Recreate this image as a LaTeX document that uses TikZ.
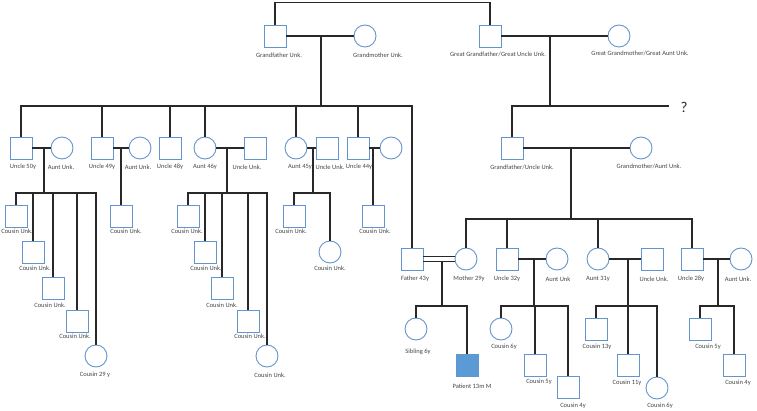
\documentclass[tikz,border=0pt]{standalone}
\usepackage{fontspec}
\setmainfont{Carlito}
\usetikzlibrary{calc}

\definecolor{symb}{RGB}{100,148,204}
\definecolor{patfill}{RGB}{91,155,213}
\definecolor{linecol}{RGB}{40,40,40}
\definecolor{txtcol}{RGB}{70,70,70}

\begin{document}
\begin{tikzpicture}[x=1pt, y=-1pt,
  male/.style={draw=symb, line width=0.9pt, rectangle, minimum size=22pt, inner sep=0pt},
  female/.style={draw=symb, line width=0.9pt, circle, minimum size=22pt, inner sep=0pt},
  patient/.style={male, fill=patfill},
  lab/.style={font=\fontsize{6.5}{7}\selectfont, text=txtcol, inner sep=0pt},
  rel/.style={draw=linecol, line width=1.2pt}]

  \useasboundingbox (0,0) rectangle (757,411);

  % grandparents
  \node[male]   (gf)  at (275,36) {};
  \node[female] (gm)  at (365,36) {};
  \node[male]   (ggf) at (490,36) {};
  \node[female] (ggm) at (619,36) {};
  \node[lab] (gf-t)  at (279,55) {Grandfather Unk.};
  \node[lab] (gm-t)  at (378,55) {Grandmother Unk.};
  \node[lab] (ggf-t) at (498,54) {Great Grandfather/Great Uncle Unk.};
  \node[lab] (ggm-t) at (640,53) {Great Grandmother/Great Aunt Unk.};

  \node[male]   (gfu) at (512,148) {};
  \node[female] (gma) at (641,148) {};
  \node[lab] (gfu-t) at (522,167) {Grandfather/Uncle Unk.};
  \node[lab] (gma-t) at (649,166) {Grandmother/Aunt Unk.};
  \node[font=\fontsize{15}{15}\selectfont, text=linecol, inner sep=0pt] (q) at (684,107) {?};

  % father's siblings
  \node[male]   (u50)  at (21,148)  {};
  \node[female] (au50) at (62,148)  {};
  \node[male]   (u49)  at (102,148) {};
  \node[female] (au49) at (140,148) {};
  \node[male]   (u48)  at (170,148) {};
  \node[female] (a46)  at (205,148) {};
  \node[male]   (uu46) at (255,148) {};
  \node[female] (a45)  at (296,148) {};
  \node[male]   (uu45) at (327,148) {};
  \node[male]   (u44)  at (358,148) {};
  \node[female] (au44) at (391,148) {};
  \node[lab] (u50-t)  at (23,167)  {Uncle 50y};
  \node[lab] (au50-t) at (61,167)  {Aunt Unk.};
  \node[lab] (u49-t)  at (102,167) {Uncle 49y};
  \node[lab] (au49-t) at (138,167) {Aunt Unk.};
  \node[lab] (u48-t)  at (170,167) {Uncle 48y};
  \node[lab] (a46-t)  at (205,167) {Aunt 46y};
  \node[lab] (uu46-t) at (247,167) {Uncle Unk.};
  \node[lab] (a45-t)  at (300,167) {Aunt 45y};
  \node[lab] (uu45-t) at (330,167) {Uncle Unk.};
  \node[lab] (u44-t)  at (359,167) {Uncle 44y};

  % mother's generation
  \node[male]   (fa)   at (412,259) {};
  \node[female] (mo)   at (466,259) {};
  \node[male]   (u32)  at (507,259) {};
  \node[female] (au32) at (557,259) {};
  \node[female] (a31)  at (598,259) {};
  \node[male]   (uu31) at (652,259) {};
  \node[male]   (u28)  at (692,259) {};
  \node[female] (au28) at (741,259) {};
  \node[lab] (fa-t)   at (415,279) {Father 43y};
  \node[lab] (mo-t)   at (469,279) {Mother 29y};
  \node[lab] (u32-t)  at (507,279) {Uncle 32y};
  \node[lab] (au32-t) at (558,279) {Aunt Unk};
  \node[lab] (a31-t)  at (598,279) {Aunt 31y};
  \node[lab] (uu31-t) at (654,279) {Uncle Unk.};
  \node[lab] (u28-t)  at (691,279) {Uncle 28y};
  \node[lab] (au28-t) at (738,279) {Aunt Unk.};

  % cousins, father's side
  \node[male]   (c501) at (16,216) {};
  \node[male]   (c502) at (33,252) {};
  \node[male]   (c503) at (53,288) {};
  \node[male]   (c504) at (77,321) {};
  \node[female] (c505) at (96,356) {};
  \node[male]   (c49)  at (121,216) {};
  \node[male]   (c461) at (188,216) {};
  \node[male]   (c462) at (205,252) {};
  \node[male]   (c463) at (222,288) {};
  \node[male]   (c464) at (248,321) {};
  \node[female] (c465) at (267,356) {};
  \node[male]   (c451) at (294,216) {};
  \node[female] (c452) at (330,252) {};
  \node[male]   (c44)  at (373,216) {};
  \node[lab] (c501-t) at (17,231)  {Cousin Unk.};
  \node[lab] (c502-t) at (35,268)  {Cousin Unk.};
  \node[lab] (c503-t) at (50,305)  {Cousin Unk.};
  \node[lab] (c504-t) at (75,336)  {Cousin Unk.};
  \node[lab] (c505-t) at (95,375)  {Cousin 29 y};
  \node[lab] (c49-t)  at (126,231) {Cousin Unk.};
  \node[lab] (c461-t) at (187,231) {Cousin Unk.};
  \node[lab] (c462-t) at (206,268) {Cousin Unk.};
  \node[lab] (c463-t) at (222,305) {Cousin Unk.};
  \node[lab] (c464-t) at (250,336) {Cousin Unk.};
  \node[lab] (c465-t) at (270,375) {Cousin Unk.};
  \node[lab] (c451-t) at (291,231) {Cousin Unk.};
  \node[lab] (c452-t) at (330,268) {Cousin Unk.};
  \node[lab] (c44-t)  at (375,231) {Cousin Unk.};

  % patient, sibling and cousins, mother's side
  \node[female]  (sib)  at (416,329) {};
  \node[patient] (pat)  at (467,365) {};
  \node[female]  (c321) at (501,329) {};
  \node[male]    (c322) at (535,365) {};
  \node[male]    (c323) at (568,387) {};
  \node[male]    (c311) at (596,329) {};
  \node[male]    (c312) at (628,365) {};
  \node[female]  (c313) at (657,388) {};
  \node[male]    (c281) at (700,329) {};
  \node[male]    (c282) at (734,365) {};
  \node[lab] (sib-t)  at (418,352) {Sibling 6y};
  \node[lab] (pat-t)  at (472,386) {Patient 13m M};
  \node[lab] (c321-t) at (504,347) {Cousin 6y};
  \node[lab] (c322-t) at (539,382) {Cousin 5y};
  \node[lab] (c323-t) at (573,406) {Cousin 4y};
  \node[lab] (c311-t) at (597,347) {Cousin 13y};
  \node[lab] (c312-t) at (627,383) {Cousin 11y};
  \node[lab] (c313-t) at (660,406) {Cousin 6y};
  \node[lab] (c281-t) at (708,347) {Cousin 5y};
  \node[lab] (c282-t) at (738,383) {Cousin 4y};

  % junctions
  \coordinate (top) at (380,2.5);
  \coordinate (m0)  at (321,36);   \coordinate (s1)  at (321,106);
  \coordinate (m0r) at (550,36);   \coordinate (s2)  at (550,106);
  \coordinate (qend) at (669,106);
  \coordinate (m1r) at (571,148);  \coordinate (s3)  at (571,219);
  \coordinate (m50) at (44,148);   \coordinate (s50) at (44,193);
  \coordinate (m49) at (121,148);
  \coordinate (m46) at (227,148);  \coordinate (s46) at (227,193);
  \coordinate (m45) at (313,148);  \coordinate (s45) at (313,193);
  \coordinate (m44) at (373,148);
  \coordinate (mfm) at (442,262);  \coordinate (sfm) at (442,306);
  \coordinate (m32) at (534,259);  \coordinate (s32) at (534,306);
  \coordinate (m31) at (628,259);  \coordinate (s31) at (628,306);
  \coordinate (m28) at (718,259);  \coordinate (s28) at (718,306);

  % lines
  \draw[rel] (gf.north) |- (top) -| (ggf.north);
  \draw[rel] (gf) -- (gm);
  \draw[rel] (ggf) -- (ggm);
  \draw[rel] (m0) -- (s1);
  \draw[rel] (m0r) -- (s2);
  \draw[rel] (s2) -| (gfu.north);
  \draw[rel] (s2) -- (qend);
  \foreach \c in {u50,u49,u48,a46,a45,u44,fa}
    \draw[rel] (s1) -| (\c.north);

  \draw[rel] (gfu) -- (gma);
  \draw[rel] (m1r) -- (s3);
  \foreach \c in {mo,u32,a31,u28}
    \draw[rel] (s3) -| (\c.north);

  \draw[rel] (u50) -- (au50);
  \draw[rel] (m50) -- (s50);
  \foreach \c in {c501,c502,c503,c504,c505}
    \draw[rel] (s50) -| (\c.north);
  \draw[rel] (u49) -- (au49);
  \draw[rel] (m49) -- (c49.north);
  \draw[rel] (a46) -- (uu46);
  \draw[rel] (m46) -- (s46);
  \foreach \c in {c461,c462,c463,c464,c465}
    \draw[rel] (s46) -| (\c.north);
  \draw[rel] (a45) -- (uu45);
  \draw[rel] (m45) -- (s45);
  \foreach \c in {c451,c452}
    \draw[rel] (s45) -| (\c.north);
  \draw[rel] (u44) -- (au44);
  \draw[rel] (m44) -- (c44.north);

  \draw[rel] ([yshift=2.5pt]fa.east) -- ([yshift=2.5pt]mo.west);
  \draw[rel] ([yshift=-2.5pt]fa.east) -- ([yshift=-2.5pt]mo.west);
  \draw[rel] (mfm) -- (sfm);
  \foreach \c in {sib,pat}
    \draw[rel] (sfm) -| (\c.north);
  \draw[rel] (u32) -- (au32);
  \draw[rel] (m32) -- (s32);
  \foreach \c in {c321,c322,c323}
    \draw[rel] (s32) -| (\c.north);
  \draw[rel] (a31) -- (uu31);
  \draw[rel] (m31) -- (s31);
  \foreach \c in {c311,c312,c313}
    \draw[rel] (s31) -| (\c.north);
  \draw[rel] (u28) -- (au28);
  \draw[rel] (m28) -- (s28);
  \foreach \c in {c281,c282}
    \draw[rel] (s28) -| (\c.north);
\end{tikzpicture}
\end{document}
